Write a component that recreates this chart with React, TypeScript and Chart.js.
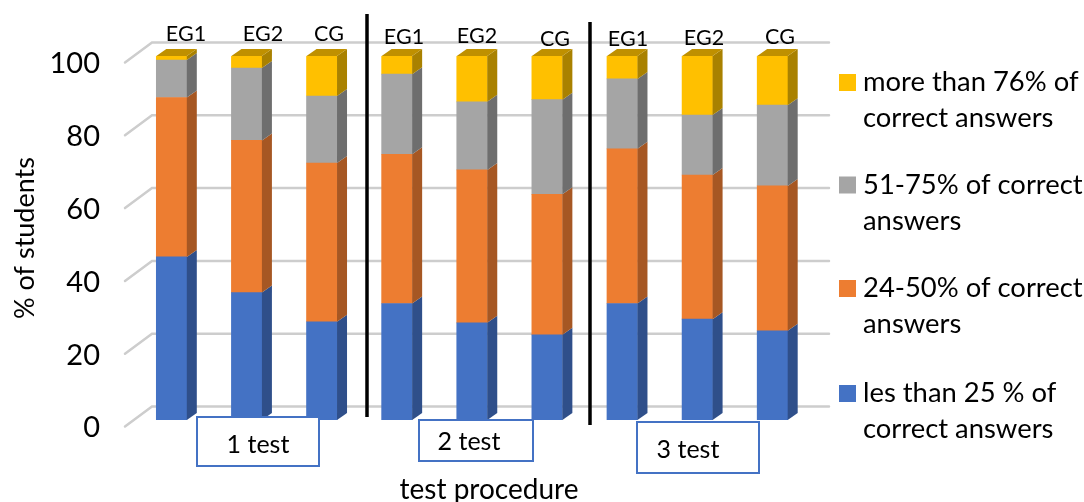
import React, { useEffect, useRef } from "react";
import { Chart, registerables } from "chart.js";

Chart.register(...registerables);

const categories = ["EG1", "EG2", "CG", "EG1", "EG2", "CG", "EG1", "EG2", "CG"];
const lessThan25 = [44.8, 35, 27, 32, 26.7, 23.4, 32, 27.7, 24.5];
const from24to50 = [43.8, 41.8, 43.6, 41, 42, 38.6, 42.5, 39.6, 39.8];
const from51to75 = [10.3, 19.9, 18.4, 22, 18.7, 26, 19.2, 16.5, 22.2];
const moreThan76 = [1.1, 3.3, 11, 5, 12.6, 12, 6.3, 16.2, 13.5];

const seriesNames = [
  ["les than 25 % of", "correct answers"],
  ["24-50% of correct", "answers"],
  ["51-75% of correct", "answers"],
  ["more than 76% of", "correct answers"],
];
const seriesColors = ["#4472c4", "#ed7d31", "#a5a5a5", "#ffc000"];
const sideColors = ["#2f4f8a", "#a65723", "#6e6e6e", "#a98100"];
const topColors = ["#2f4f8a", "#a65723", "#6e6e6e", "#bf9000"];

const yTicks = [0, 20, 40, 60, 80, 100];
const FONT = "Lato, Carlito, sans-serif";

// Hand-placed overlays of the original figure
const labelSpots = [
  [186, 34], [263, 34], [329, 34], [404, 37], [477, 36], [555, 39], [628, 39], [704, 38], [780, 37],
];
const testBoxes = [
  { text: "1 test", x: 197, y: 417, w: 122, h: 49, tx: 258, ty: 445 },
  { text: "2 test", x: 419, y: 420, w: 114, h: 41, tx: 469, ty: 442 },
  { text: "3 test", x: 637, y: 422, w: 122, h: 51, tx: 688, ty: 450 },
];
const dividers = [
  { x: 367, y1: 14, y2: 417 },
  { x: 590, y1: 22, y2: 425 },
];
const legendRows = [393.5, 288.5, 185, 82.5];

const DX = 10;
const DY = 7;

const wallPlugin = {
  id: "wall",
  beforeDatasetsDraw(chart: any) {
    const { ctx, scales } = chart;
    ctx.save();
    ctx.lineCap = "round";
    for (const v of yTicks) {
      const p = scales.y.getPixelForValue(v);
      ctx.strokeStyle = "#cdcdcd";
      ctx.lineWidth = 2.5;
      ctx.beginPath();
      ctx.moveTo(125, p + 6.5);
      ctx.lineTo(152, p - 13.5);
      ctx.lineTo(829, p - 13.5);
      ctx.stroke();
    }
    ctx.restore();
  },
  afterDatasetsDraw(chart: any) {
    const { ctx } = chart;
    ctx.save();
    chart.data.datasets.forEach((_: any, di: number) => {
      const meta = chart.getDatasetMeta(di);
      meta.data.forEach((bar: any) => {
        const r = bar.x + bar.width / 2;
        const l = bar.x - bar.width / 2;
        ctx.fillStyle = sideColors[di];
        ctx.beginPath();
        ctx.moveTo(r, bar.y);
        ctx.lineTo(r + DX, bar.y - DY);
        ctx.lineTo(r + DX, bar.base - DY);
        ctx.lineTo(r, bar.base);
        ctx.closePath();
        ctx.fill();
        if (di === chart.data.datasets.length - 1) {
          ctx.fillStyle = topColors[di];
          ctx.beginPath();
          ctx.moveTo(l, bar.y);
          ctx.lineTo(l + DX, bar.y - DY);
          ctx.lineTo(r + DX, bar.y - DY);
          ctx.lineTo(r, bar.y);
          ctx.closePath();
          ctx.fill();
        }
      });
    });

    ctx.fillStyle = "#000";
    ctx.textAlign = "center";
    ctx.textBaseline = "middle";
    ctx.font = `21.5px ${FONT}`;
    chart.data.labels.forEach((lab: string, i: number) => {
      ctx.fillText(lab, labelSpots[i][0], labelSpots[i][1]);
    });

    ctx.strokeStyle = "#000";
    ctx.lineWidth = 3.5;
    for (const d of dividers) {
      ctx.beginPath();
      ctx.moveTo(d.x, d.y1);
      ctx.lineTo(d.x, d.y2);
      ctx.stroke();
    }

    for (const b of testBoxes) {
      ctx.fillStyle = "#fff";
      ctx.fillRect(b.x, b.y, b.w, b.h);
      ctx.strokeStyle = "#4472c4";
      ctx.lineWidth = 2;
      ctx.strokeRect(b.x, b.y, b.w, b.h);
      ctx.fillStyle = "#000";
      ctx.font = `25px ${FONT}`;
      ctx.fillText(b.text, b.tx, b.ty);
    }

    ctx.font = `28px ${FONT}`;
    ctx.fillText("test procedure", 489, 490);

    ctx.textAlign = "left";
    ctx.font = `27.4px ${FONT}`;
    seriesNames.forEach((lines, i) => {
      const y = legendRows[i];
      ctx.fillStyle = seriesColors[i];
      ctx.fillRect(839, y - 8.5, 17, 17);
      ctx.fillStyle = "#000";
      ctx.fillText(lines[0], 863, y);
      ctx.fillText(lines[1], 863, y + 36);
    });
    ctx.restore();
  },
};

export default function App() {
  const ref = useRef<HTMLCanvasElement>(null);
  useEffect(() => {
    const data = [lessThan25, from24to50, from51to75, moreThan76];
    const chart = new Chart(ref.current!, {
      type: "bar",
      data: {
        labels: categories,
        datasets: data.map((d, i) => ({
          label: seriesNames[i].join(" "),
          data: d,
          backgroundColor: seriesColors[i],
          barThickness: 30.5,
          stack: "s",
        })),
      },
      plugins: [wallPlugin],
      options: {
        animation: false,
        responsive: false,
        devicePixelRatio: 1,
        layout: { padding: { top: 56, right: 274, left: 0, bottom: 0 } },
        plugins: { legend: { display: false }, tooltip: { enabled: false } },
        scales: {
          x: {
            stacked: true,
            grid: { display: false },
            border: { display: false },
            ticks: { display: false },
            afterFit: (s: any) => { s.height = 82; },
          },
          y: {
            stacked: true,
            min: 0,
            max: 100,
            grid: { display: false, drawTicks: false },
            border: { display: false },
            afterFit: (s: any) => { s.width = 134; },
            afterBuildTicks: (s: any) => { s.ticks = yTicks.map((value) => ({ value })); },
            ticks: {
              color: "#000",
              padding: 34,
              labelOffset: 8,
              font: { family: FONT, size: 29 },
            },
            title: {
              display: true,
              text: "% of students",
              color: "#000",
              font: { family: FONT, size: 27 },
              padding: { top: 9, bottom: 0 },
            },
          },
        },
      },
    } as any);
    return () => chart.destroy();
  }, []);
  return (
    <div style={{ position: "fixed", left: 0, top: 0, width: 1084, height: 502, background: "#fff" }}>
      <canvas ref={ref} width={1084} height={502} style={{ display: "block" }} />
    </div>
  );
}
